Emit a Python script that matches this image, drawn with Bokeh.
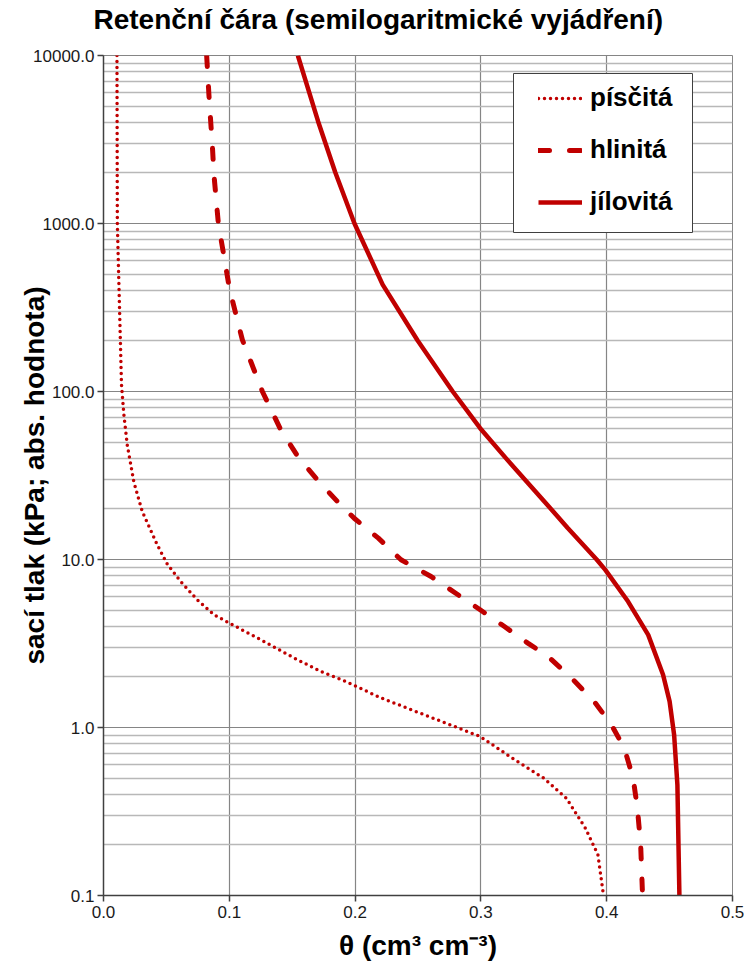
from bokeh.plotting import figure
from bokeh.models import (FixedTicker, Legend, LegendItem, Range1d,
                          CustomJSTickFormatter, BoxAnnotation, Title)
from bokeh.embed import file_html
from bokeh.resources import INLINE

# ---- data ----
sand_h = [10000, 1000, 110, 72.7, 48, 29, 19.3, 12.2, 9.38, 7.4, 5.75, 4.69, 4.17,
          3.33, 2.59, 2.15, 1.90, 1.50, 0.884, 0.657, 0.499, 0.379, 0.252, 0.175, 0.106, 0.1]
sand_t = [0.0107, 0.011, 0.0143, 0.0162, 0.0189, 0.0241, 0.0308, 0.0428, 0.0507, 0.0613,
          0.0746, 0.0879, 0.1003, 0.125, 0.1516, 0.173, 0.191, 0.2206, 0.2994, 0.325,
          0.350, 0.368, 0.383, 0.393, 0.397, 0.398]

loam_h = [10000, 5840, 4050, 2940, 1950, 1000, 403, 203, 100, 59, 40, 29, 22.1, 17.6,
          13.4, 9.96, 7.92, 6.3, 5.02, 3.99, 3.18, 2.65, 1.97, 1.43, 1.04, 0.753, 0.50,
          0.331, 0.20, 0.1]
loam_t = [0.0820, 0.0838, 0.0852, 0.0865, 0.0878, 0.0913, 0.1003, 0.1104, 0.1263, 0.141,
          0.1555, 0.1714, 0.186, 0.1993, 0.2185, 0.2365, 0.2604, 0.280, 0.2994, 0.3187,
          0.3373, 0.3533, 0.372, 0.390, 0.4037, 0.414, 0.421, 0.4244, 0.427, 0.4285]

clay_h = [10000, 4050, 2020, 1000, 433, 201, 100, 60.5, 40, 22.1, 15.4, 10, 8.68,
          5.62, 3.56, 2.06, 1.43, 0.904, 0.456, 0.1]
clay_t = [0.1545, 0.1706, 0.1842, 0.1995, 0.2219, 0.2497, 0.2776, 0.2994, 0.320,
          0.3506, 0.369, 0.392, 0.3989, 0.417, 0.433, 0.4448, 0.450, 0.4536, 0.4562, 0.4578]

series_names = ["písčitá", "hlinitá", "jílovitá"]
x_ticks = [0.0, 0.1, 0.2, 0.3, 0.4, 0.5]
y_ticks = [0.1, 1, 10, 100, 1000, 10000]
y_minor = [k * 10.0 ** e for e in range(-1, 4) for k in range(2, 10)]

title_text = "Retenční čára (semilogaritmické vyjádření)"
x_label = "θ (cm³ cm⁻³)"
y_label = "sací tlak (kPa; abs. hodnota)"

RED = "#c00000"
FONT = "Liberation Sans"

p = figure(frame_width=629, frame_height=840, y_axis_type="log",
           x_range=Range1d(0, 0.5), y_range=Range1d(0.1, 10000),
           output_backend="svg", toolbar_location=None, title=None,
           min_border_left=103, min_border_right=12, min_border_top=55,
           min_border_bottom=75)

# spacer between frame and title, then the title itself
p.add_layout(Title(text=" ", text_font_size="1px", standoff=18), "above")
p.add_layout(Title(text=title_text, text_font=FONT, text_font_size="28px",
                   text_font_style="bold", text_color="#000000",
                   align="left", offset=-10, standoff=0), "above")

fmt = CustomJSTickFormatter(code="return tick.toFixed(1);")

p.xaxis.ticker = FixedTicker(ticks=x_ticks)
p.xaxis.formatter = fmt
p.yaxis.ticker = FixedTicker(ticks=y_ticks, minor_ticks=y_minor)
p.yaxis.formatter = fmt

for ax in (p.xaxis[0], p.yaxis[0]):
    ax.axis_line_color = "#404040"
    ax.axis_line_width = 1.5
    ax.major_tick_line_color = "#404040"
    ax.major_tick_line_width = 1.5
    ax.major_tick_out = 6
    ax.major_tick_in = 0
    ax.minor_tick_out = 0
    ax.minor_tick_in = 0
    ax.major_label_text_font = FONT
    ax.major_label_text_font_size = "17px"
    ax.major_label_text_color = "#1a1a1a"
    ax.axis_label_text_font = FONT
    ax.axis_label_text_font_size = "28px"
    ax.axis_label_text_font_style = "bold"
    ax.axis_label_text_color = "#000000"

p.xaxis.axis_label = x_label
p.xaxis.major_label_standoff = 4
p.xaxis.axis_label_standoff = 9
p.yaxis.axis_label = y_label
p.yaxis.major_label_standoff = 3
p.yaxis.axis_label_standoff = -20

p.xgrid.grid_line_color = "#858585"
p.xgrid.grid_line_width = 1.2
p.ygrid.grid_line_color = "#858585"
p.ygrid.grid_line_width = 1.2
p.ygrid.minor_grid_line_color = "#b8b8b8"
p.ygrid.minor_grid_line_width = 1.5
p.outline_line_color = "#858585"
p.background_fill_color = "white"

r_sand = p.line(sand_t, sand_h, line_color=RED, line_width=3.5,
                line_dash="0 6", line_cap="round", line_join="round")
r_loam = p.line(loam_t, loam_h, line_color=RED, line_width=5,
                line_dash="11 20", line_cap="round", line_join="round")
r_clay = p.line(clay_t, clay_h, line_color=RED, line_width=4.5, line_join="round")

# legend frame (screen units, relative to the plot frame)
legend_box = BoxAnnotation(left=410, right=589, bottom=663, top=822,
                           left_units="screen", right_units="screen",
                           bottom_units="screen", top_units="screen",
                           fill_color="white", fill_alpha=1.0,
                           line_color="#404040", line_width=1, line_alpha=1.0)
p.add_layout(legend_box)

legend = Legend(items=[LegendItem(label=series_names[0], renderers=[r_sand]),
                       LegendItem(label=series_names[1], renderers=[r_loam]),
                       LegendItem(label=series_names[2], renderers=[r_clay])],
                location=(435, 678))
legend.label_text_font = FONT
legend.label_text_font_size = "26px"
legend.label_text_font_style = "bold"
legend.label_text_color = "#000000"
legend.glyph_width = 44
legend.glyph_height = 30
legend.label_height = 30
legend.label_standoff = 8
legend.spacing = 21
legend.padding = 0
legend.margin = 0
legend.border_line_color = None
legend.background_fill_alpha = 0
p.add_layout(legend)

open("out.html", "w").write(file_html(p, INLINE))
